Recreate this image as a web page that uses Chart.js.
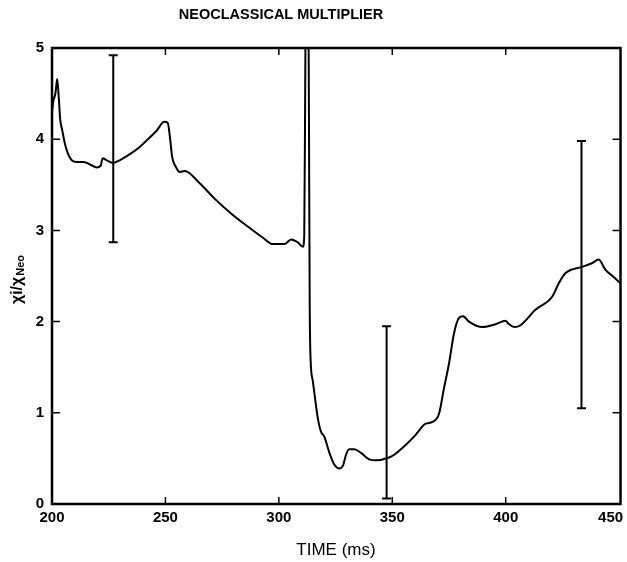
<!DOCTYPE html>
<html lang="en">
<head>
  <meta charset="UTF-8">
  <title>Neoclassical Multiplier</title>
  <script src="https://cdn.jsdelivr.net/npm/chart.js"></script>
  <style>
    html, body {
      margin: 0;
      padding: 0;
      background-color: white;
    }
    #wrap {
      width: 627px;
      height: 562px;
    }
  </style>
</head>
<body>
  <div id="wrap">
    <canvas id="chart" width="627" height="562"></canvas>
  </div>

  <script>
    // time axis (ms) and chi_i / chi_neo
    const timeMs = [
      200.0, 200.6, 201.5, 202.3, 203.0, 203.6, 204.5, 205.7, 207.2, 208.7,
      211.0, 214.0, 217.0, 219.7, 221.5, 222.0, 222.5, 224.0, 227.0, 230.0,
      234.0, 238.0, 241.0, 246.0, 249.5, 251.0, 252.0, 253.0, 254.5, 256.3,
      258.5, 265.0, 272.0, 279.7, 287.0, 293.0, 297.3, 302.5, 305.4, 308.3,
      310.6, 311.2, 311.6, 312.0, 312.9, 313.3, 313.6, 314.0, 314.9, 316.0,
      317.1, 318.6, 320.0, 322.3, 324.5, 326.6, 328.4, 329.6, 331.0, 333.2,
      336.2, 339.8, 342.8, 348.6, 350.8, 356.0, 360.0, 364.7, 367.7, 370.6,
      372.8, 375.0, 377.2, 379.4, 381.2, 383.8, 389.7, 395.5, 399.9, 401.1,
      404.0, 406.5, 413.1, 420.4, 423.4, 426.3, 433.6, 438.0, 441.0, 443.9,
      447.6, 450.5
    ];
    const chiRatio = [
      4.30, 4.42, 4.50, 4.66, 4.45, 4.22, 4.10, 3.95, 3.83, 3.77,
      3.75, 3.75, 3.72, 3.69, 3.71, 3.77, 3.79, 3.77, 3.74, 3.77,
      3.83, 3.90, 3.97, 4.09, 4.19, 4.18, 4.02, 3.80, 3.70, 3.64,
      3.65, 3.52, 3.34, 3.17, 3.03, 2.92, 2.85, 2.85, 2.90, 2.87,
      2.82, 2.95, 4.50, 6.00, 6.00, 4.00, 2.20, 1.58, 1.36, 1.15,
      0.95, 0.79, 0.74, 0.56, 0.43, 0.39, 0.43, 0.54, 0.60, 0.60,
      0.56, 0.49, 0.48, 0.51, 0.54, 0.65, 0.75, 0.88, 0.90, 0.99,
      1.27, 1.54, 1.87, 2.04, 2.06, 2.00, 1.94, 1.97, 2.01, 1.98,
      1.94, 1.96, 2.13, 2.27, 2.42, 2.53, 2.60, 2.64, 2.68, 2.57,
      2.49, 2.42
    ];

    // error bars
    const errTime = [227, 347.5, 433.4];
    const errLow = [2.87, 0.06, 1.05];
    const errHigh = [4.92, 1.95, 3.98];

    const xTickValues = [200, 250, 300, 350, 400, 450];
    const yTickValues = [0, 1, 2, 3, 4, 5];

    const curve = timeMs.map((t, i) => ({ x: t, y: chiRatio[i] }));

    const errDatasets = errTime.map((t, i) => ({
      data: [{ x: t, y: errLow[i] }, { x: t, y: errHigh[i] }],
      borderColor: "#000",
      backgroundColor: "#000",
      borderWidth: 2,
      pointStyle: "line",
      pointRadius: 4.5,
      pointBorderWidth: 2,
      pointBorderColor: "#000",
      tension: 0
    }));

    const tickFont = "bold 15px 'Liberation Sans', Arial, sans-serif";

    const frame = {
      id: "frame",
      afterDatasetsDraw(chart) {
        const ctx = chart.ctx;
        const a = chart.chartArea;
        const xs = chart.scales.x, ys = chart.scales.y;
        ctx.save();
        ctx.strokeStyle = "#000";
        ctx.lineWidth = 2.5;
        ctx.strokeRect(a.left, a.top, a.right - a.left, a.bottom - a.top);
        ctx.lineWidth = 1.5;
        ctx.beginPath();
        xTickValues.slice(1, -1).forEach(v => {
          const px = xs.getPixelForValue(v);
          ctx.moveTo(px, a.bottom); ctx.lineTo(px, a.bottom - 7);
          ctx.moveTo(px, a.top); ctx.lineTo(px, a.top + 7);
        });
        yTickValues.slice(1, -1).forEach(v => {
          const py = ys.getPixelForValue(v);
          ctx.moveTo(a.left, py); ctx.lineTo(a.left + 8, py);
          ctx.moveTo(a.right, py); ctx.lineTo(a.right - 8, py);
        });
        ctx.stroke();

        // x tick labels, last one kept inside the canvas
        ctx.fillStyle = "#000";
        ctx.font = tickFont;
        ctx.textBaseline = "middle";
        xTickValues.forEach((v, i) => {
          const px = xs.getPixelForValue(v);
          const last = i === xTickValues.length - 1;
          ctx.textAlign = last ? "right" : "center";
          ctx.fillText(String(v), last ? px + 4 : px, a.bottom + 14);
        });
        ctx.restore();
      },
      afterDraw(chart) {
        const ctx = chart.ctx;
        ctx.save();
        ctx.fillStyle = "#000";
        ctx.textAlign = "center";
        ctx.textBaseline = "middle";
        ctx.font = "bold 14.5px 'Liberation Sans', Arial, sans-serif";
        ctx.fillText("NEOCLASSICAL MULTIPLIER", 281, 15);
        ctx.font = "17px 'Liberation Sans', Arial, sans-serif";
        ctx.fillText("TIME (ms)", 336, 550);

        // rotated y label with subscript
        ctx.translate(18, 280);
        ctx.rotate(-Math.PI / 2);
        const mainFont = "bold 16px 'Liberation Sans', Arial, sans-serif";
        const subFont = "bold 11px 'Liberation Sans', Arial, sans-serif";
        ctx.font = mainFont;
        const w1 = ctx.measureText("\u03c7i/\u03c7").width;
        ctx.font = subFont;
        const w2 = ctx.measureText("Neo").width;
        const start = -(w1 + w2) / 2;
        ctx.textAlign = "left";
        ctx.font = mainFont;
        ctx.fillText("\u03c7i/\u03c7", start, 0);
        ctx.font = subFont;
        ctx.fillText("Neo", start + w1 + 1, 3);
        ctx.restore();
      }
    };

    new Chart(document.getElementById("chart"), {
      type: "line",
      data: {
        datasets: [{
          data: curve,
          borderColor: "#000",
          borderWidth: 2,
          pointRadius: 0,
          fill: false,
          cubicInterpolationMode: "monotone"
        }].concat(errDatasets)
      },
      options: {
        responsive: false,
        animation: false,
        layout: { padding: { left: 0, right: 5, top: 48, bottom: 0 } },
        plugins: {
          legend: { display: false },
          tooltip: { enabled: false },
          title: { display: false }
        },
        scales: {
          x: {
            type: "linear",
            min: 200,
            max: 450.6,
            afterFit: s => {
              s.height = 58;
              s.paddingLeft = 0;
              s.paddingRight = 0;
            },
            afterBuildTicks: s => { s.ticks = xTickValues.map(v => ({ value: v })); },
            grid: { display: false, drawTicks: false },
            border: { display: false },
            ticks: { display: false }
          },
          y: {
            min: 0,
            max: 5,
            afterFit: s => {
              s.width = 52;
              s.paddingTop = 0;
              s.paddingBottom = 0;
            },
            afterBuildTicks: s => { s.ticks = yTickValues.map(v => ({ value: v })); },
            grid: { display: false, drawTicks: false },
            border: { display: false },
            ticks: {
              color: "#000",
              padding: 8,
              font: { family: "'Liberation Sans', Arial, sans-serif", size: 15, weight: "bold" }
            }
          }
        }
      },
      plugins: [frame]
    });
  </script>
</body>
</html>
